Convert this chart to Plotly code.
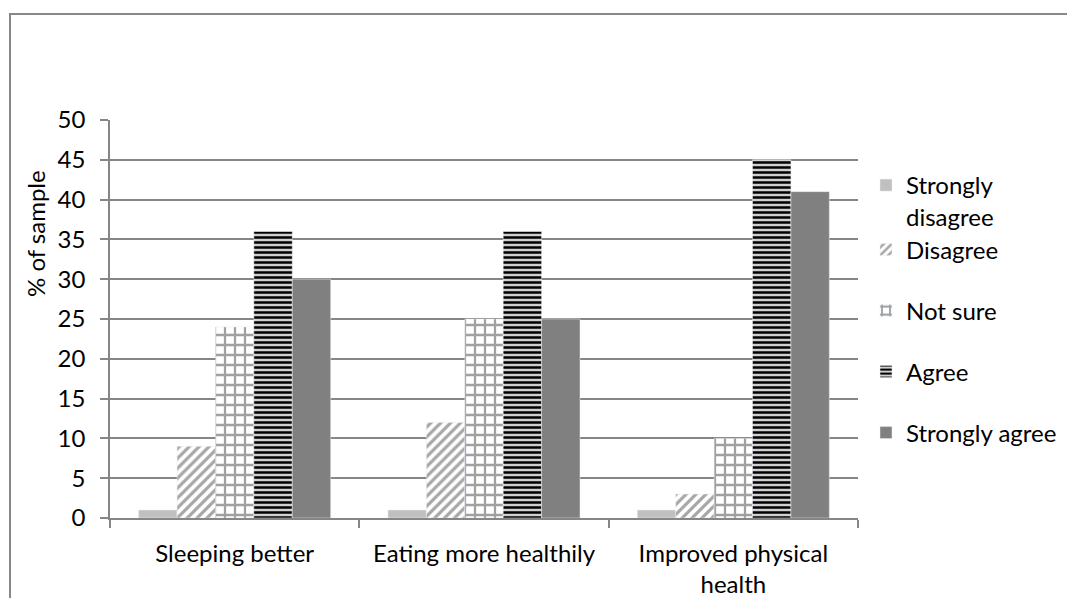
import plotly.graph_objects as go

categories = ["Sleeping better", "Eating more healthily", "Improved physical<br>health"]
series_names = ["Strongly<br>disagree", "Disagree", "Not sure", "Agree", "Strongly agree"]
strongly_disagree = [1, 1, 1]
disagree = [9, 12, 3]
not_sure = [24, 25, 10]
agree = [36, 36, 45]
strongly_agree = [30, 25, 41]
y_ticks = [0, 5, 10, 15, 20, 25, 30, 35, 40, 45, 50]

values = [strongly_disagree, disagree, not_sure, agree, strongly_agree]
markers = [
    dict(color="#c0c0c0"),
    dict(color="#ffffff", pattern=dict(shape="/", fgcolor="#a6a6a6", bgcolor="#ffffff", size=7, solidity=0.45, fillmode="replace")),
    dict(color="#ffffff", pattern=dict(shape="+", fgcolor="#a0a0a0", bgcolor="#ffffff", size=10, solidity=0.4, fillmode="replace")),
    dict(color="#d9d9d9", pattern=dict(shape="-", fgcolor="#000000", bgcolor="#d0d0d0", size=5, solidity=0.5, fillmode="replace")),
    dict(color="#808080"),
]

FONT = "Lato"
FS = 24
L, R, T, B = 110, 858, 120, 518
W, H = 1067, 598

def py(pix):
    return (B - pix) / (B - T)

def px(pix):
    return (pix - L) / (R - L)

legend_y = [201, 250, 311, 372, 433]

fig = go.Figure()
for i, (name, vals, mk) in enumerate(zip(series_names, values, markers)):
    lg = "legend" if i == 0 else f"legend{i+1}"
    fig.add_trace(go.Bar(x=categories, y=vals, name=name, marker=mk, legend=lg))

legend_common = dict(
    x=px(866), xanchor="left", yanchor="middle",
    bgcolor="rgba(0,0,0,0)", borderwidth=0,
    font=dict(family=FONT, size=FS, color="#000000"),
    valign="top",
)
layout_legends = {}
for i, yy in enumerate(legend_y):
    key = "legend" if i == 0 else f"legend{i+1}"
    d = dict(legend_common)
    d["y"] = py(yy)
    layout_legends[key] = d

fig.update_layout(
    width=W, height=H,
    margin=dict(l=L, r=W - R, t=T, b=H - B, pad=0, autoexpand=False),
    paper_bgcolor="#ffffff", plot_bgcolor="#ffffff",
    barmode="group", bargap=0.23, bargroupgap=0,
    font=dict(family=FONT, size=FS, color="#000000"),
    showlegend=True,
    **layout_legends,
)

fig.update_xaxes(
    automargin=False,
    showline=True, linecolor="#868686", linewidth=1.5,
    ticks="outside", tickson="boundaries", ticklen=8, tickcolor="#868686", tickwidth=1.5,
    showgrid=False, ticklabelstandoff=13,
    tickfont=dict(family=FONT, size=FS, color="#000000"),
)
fig.update_yaxes(
    automargin=False,
    range=[0, 50], tickvals=y_ticks,
    showline=True, linecolor="#868686", linewidth=1.5,
    ticks="outside", ticklen=8, tickcolor="#868686", tickwidth=1.5,
    showgrid=True, gridcolor="#868686", gridwidth=1.5,
    zeroline=False, ticklabelstandoff=10,
    tickfont=dict(family=FONT, size=FS, color="#000000"),
)

fig.add_annotation(
    text="% of sample", textangle=-90, xref="paper", yref="paper",
    x=px(35), y=py(234), showarrow=False, xanchor="center", yanchor="middle",
    font=dict(family=FONT, size=FS, color="#000000"),
)

fig.add_shape(
    type="rect", xref="paper", yref="paper",
    x0=px(10), y0=py(640), x1=px(1100), y1=py(14),
    line=dict(color="#888888", width=2), fillcolor="rgba(0,0,0,0)", layer="below",
)

fig.write_html("out.html")
